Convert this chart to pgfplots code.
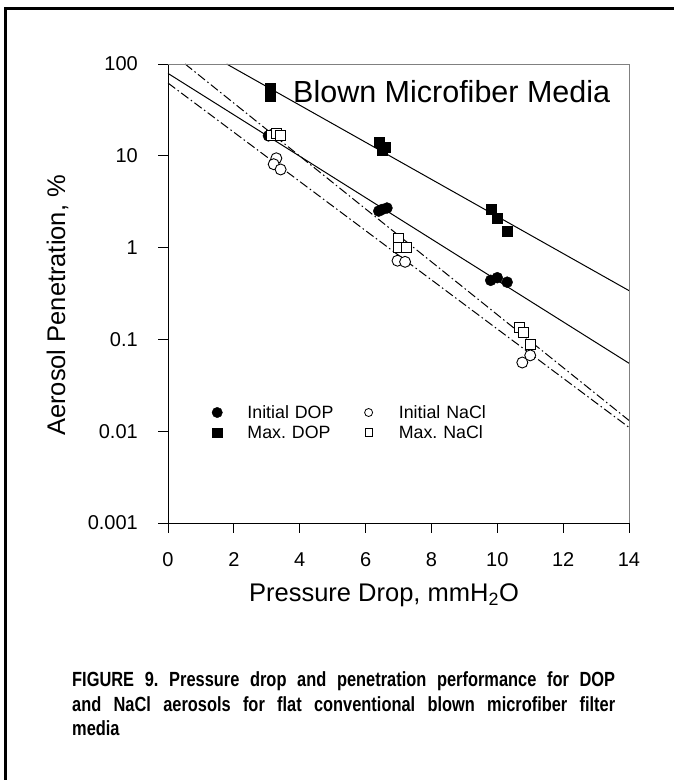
\documentclass[border=0pt]{standalone}
\usepackage{fontspec}
\setmainfont{Liberation Sans}
\newfontfamily\capfont[FakeStretch=0.8]{Liberation Sans}
\usepackage{pgfplots}
\pgfplotsset{compat=1.18}

\begin{document}
\frenchspacing
\begin{tikzpicture}
\useasboundingbox (0pt,0pt) rectangle (673pt,780pt);
% page frame (only left and top edges are visible)
\draw[line width=2.5pt] (5.5pt,-3pt) -- (5.5pt,771.5pt) -- (676pt,771.5pt);

\begin{axis}[
  name=ax,
  at={(168pt,257pt)}, anchor=south west,
  scale only axis, width=461pt, height=459pt,
  xmin=0, xmax=14, ymode=log, ymin=0.001, ymax=100,
  axis x line*=bottom, axis y line*=left,
  axis line style={black, line width=0.9pt},
  xtick={0,2,...,14}, xticklabels={0,2,4,6,8,10,12,14},
  ytick={0.001,0.01,0.1,1,10,100}, yticklabels={0.001,0.01,0.1,1,10,100},
  yminorticks=false,
  tick align=outside, major tick length=10pt,
  tick style={black, line width=0.9pt},
  ticklabel style={font=\fontsize{20}{24}\selectfont},
  xticklabel style={anchor=north, inner sep=0pt, text height=14.5pt, text depth=0pt, yshift=-19pt},
  yticklabel style={anchor=east, inner sep=0pt, xshift=-20pt},
  xlabel={Pressure Drop, mmH\textsubscript{2}O},
  ylabel={Aerosol Penetration, \%},
  label style={font=\fontsize{25.5}{30}\selectfont},
  xlabel style={at={(rel axis cs:0.4685,-0.172)}, anchor=base, inner sep=0pt},
  ylabel style={at={(rel axis cs:-0.2234,0.474)}, anchor=base, inner sep=0pt},
  legend columns=2,
  legend cell align=left,
  legend style={draw=none, fill=none, inner sep=0pt, outer sep=0pt,
    at={(rel axis cs:0.0738,0.2538)}, anchor=north west,
    font=\fontsize{17.8}{21}\selectfont,
    nodes={inner sep=0pt, font=\fontsize{17.8}{21}\selectfont, text height=12pt, text depth=0pt, text width=106pt, align=left},
    row sep=8pt},
  legend image code/.code={\path (-15pt,0pt) (30pt,0pt); \draw[#1] plot coordinates {(0pt,0pt)};},
  dashdot/.style={black, line width=1pt, dash pattern=on 9pt off 3pt on 1.5pt off 3pt},
]
% fitted lines
\addplot[black, line width=1pt, forget plot] coordinates {(1.78,100) (14,0.34)};
\addplot[black, line width=1pt, forget plot] coordinates {(0,79) (14,0.055)};
\addplot[dashdot, forget plot] coordinates {(0.52,100) (14,0.0131)};
\addplot[dashdot, forget plot] coordinates {(0,62) (14,0.011)};

% Initial DOP
\addplot[only marks, mark=*, mark size=5.5pt, black, forget plot] coordinates {
  (3.05,16.5) (3.15,17) (6.4,2.5) (6.5,2.6) (6.65,2.7) (9.8,0.44) (10.0,0.47) (10.3,0.42)};
% Max. DOP
\addplot[only marks, mark=square*, mark size=5pt, black, forget plot] coordinates {
  (3.1,54) (3.1,45) (6.4,14) (6.5,11.5) (6.6,12.5) (9.8,2.6) (10.0,2.1) (10.3,1.5)};
% Initial NaCl
\addplot[only marks, mark=*, mark size=5.5pt, mark options={fill=white, draw=black, line width=0.9pt}, forget plot] coordinates {
  (3.29,9.4) (3.21,8.1) (3.42,7.1) (6.97,0.72) (7.2,0.70) (10.76,0.056) (11.0,0.067)};
% Max. NaCl
\addplot[only marks, mark=square*, mark size=5pt, mark options={fill=white, draw=black, line width=0.9pt}, forget plot] coordinates {
  (3.15,16.5) (3.3,17.5) (3.4,16.5) (7.0,1.25) (7.0,1.0) (7.25,1.0) (10.67,0.135) (10.79,0.12) (11.0,0.088)};

\addlegendimage{only marks, mark=*, mark size=5.2pt, black}
\addlegendimage{only marks, mark=*, mark size=4pt, mark options={fill=white, draw=black, line width=0.8pt}}
\addlegendimage{only marks, mark=square*, mark size=4.6pt, black}
\addlegendimage{only marks, mark=square*, mark size=3.7pt, mark options={fill=white, draw=black, line width=0.8pt}}
\legend{Initial DOP, Initial NaCl, Max. DOP, Max. NaCl}

\node[anchor=base west, inner sep=0pt, font=\fontsize{30.5}{36}\selectfont]
  at (rel axis cs:0.2712,0.9172) {Blown Microfiber Media};
\end{axis}
\draw[gray, line width=0.6pt] (ax.north west) -- (ax.north east) -- (ax.south east);

\node[anchor=north west, inner sep=0pt, text width=543pt, align=justify,
  font=\capfont\bfseries\fontsize{20.5}{24.5}\selectfont] at (72pt,108.5pt)
  {FIGURE 9. Pressure drop and penetration performance for DOP\linebreak
   and NaCl aerosols for flat conventional blown microfiber filter\linebreak
   media};
\end{tikzpicture}
\end{document}
